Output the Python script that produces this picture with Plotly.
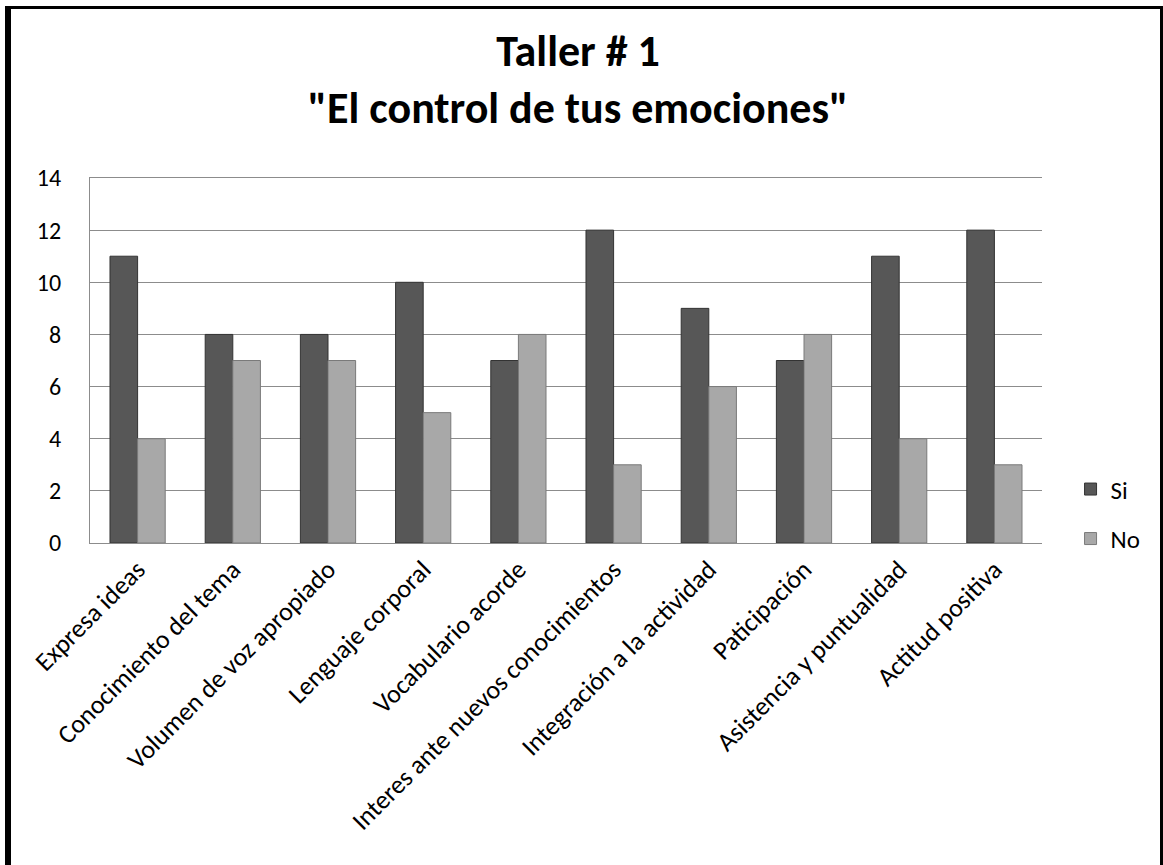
import plotly.graph_objects as go

categorias = [
    "Expresa ideas",
    "Conocimiento del tema",
    "Volumen de voz apropiado",
    "Lenguaje corporal",
    "Vocabulario acorde",
    "Interes ante nuevos conocimientos",
    "Integración a la actividad",
    "Paticipación",
    "Asistencia y puntualidad",
    "Actitud positiva",
]
si_vals = [11, 8, 8, 10, 7, 12, 9, 7, 11, 12]
no_vals = [4, 7, 7, 5, 8, 3, 6, 8, 4, 3]

W, H = 1163, 865
L, R, T, B = 90, 121, 178, 322
FONT = "Carlito, Lato, 'Open Sans', sans-serif"

fig = go.Figure()
fig.add_trace(go.Bar(
    x=categorias, y=si_vals, name="Si", legendgroup="si",
    marker=dict(color="#575757", line=dict(color="#333333", width=1)),
))
fig.add_trace(go.Bar(
    x=categorias, y=no_vals, name="No", legendgroup="no",
    marker=dict(color="#a8a8a8", line=dict(color="#7a7a7a", width=1)),
))


# pixel -> paper coords, for the outer black frame
def px_x(p):
    return (p - L) / (W - L - R)


def px_y(p):
    return (H - B - p) / (H - T - B)


frame = [
    (px_x(8), px_y(6), px_x(8), px_y(880), 6),            # left, thick
    (px_x(5), px_y(7.5), px_x(1163), px_y(7.5), 3),       # top
    (px_x(1161.5), px_y(6), px_x(1161.5), px_y(880), 3),  # right
]
for x0, y0, x1, y1, w in frame:
    fig.add_shape(type="line", xref="paper", yref="paper",
                  x0=x0, y0=y0, x1=x1, y1=y1,
                  line=dict(color="black", width=w))

fig.update_layout(
    width=W, height=H,
    margin=dict(l=L, r=R, t=T, b=B, autoexpand=False),
    paper_bgcolor="white", plot_bgcolor="white",
    font=dict(family=FONT, size=24, color="black"),
    title=dict(
        text="<b>Taller # 1<br>\"El control de tus emociones\"</b>",
        x=0.497, xanchor="center", y=1 - 66 / H, yanchor="middle",
        font=dict(size=44, family=FONT),
    ),
    barmode="group", bargap=0.42, bargroupgap=0,
    legend=dict(
        x=1.03, xanchor="left", y=0.08, yanchor="middle",
        tracegroupgap=14, font=dict(size=25),
        bgcolor="rgba(0,0,0,0)",
    ),
    xaxis=dict(
        tickangle=-45, showline=True, mirror=True,
        linecolor="#8c8c8c", linewidth=1,
        tickfont=dict(size=26), ticks="", showgrid=False,
    ),
    yaxis=dict(
        range=[0, 14], dtick=2, showgrid=True, gridcolor="#8c8c8c", gridwidth=1,
        showline=True, linecolor="#8c8c8c", linewidth=1,
        zeroline=False, ticks="", ticklabelstandoff=23,
        tickfont=dict(size=24),
    ),
)

# page body has an 8px default margin; drop it so the figure sits at 0,0
fig.write_html("out.html", config={"displayModeBar": False},
               post_script="document.body.style.margin='0';")
